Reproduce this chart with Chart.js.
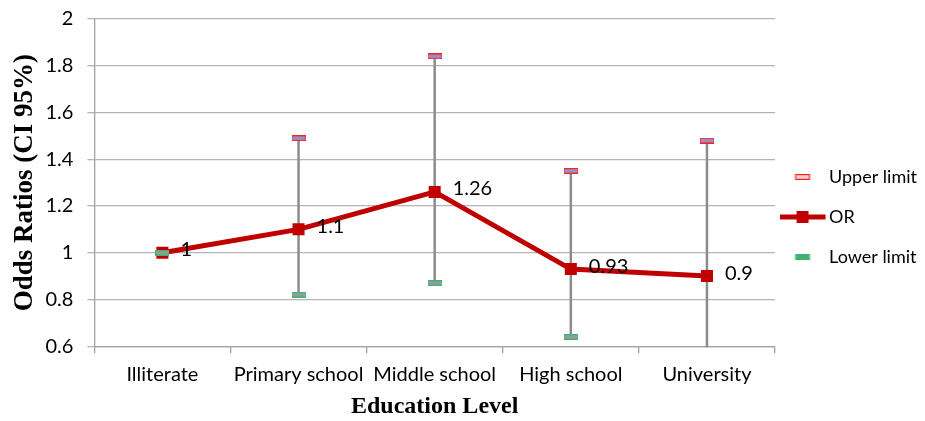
<!DOCTYPE html>
<html>
<head>
<meta charset="utf-8">
<script src="https://cdn.jsdelivr.net/npm/chart.js@4.4.1/dist/chart.umd.min.js"></script>
<style>
  html, body { margin: 0; padding: 0; background: #fff; }
  #wrap { width: 925px; height: 421px; position: relative; }
</style>
</head>
<body>
<div id="wrap"><canvas id="chart"></canvas></div>
<script>
const categories = ['Illiterate', 'Primary school', 'Middle school', 'High school', 'University'];
const orValues = [1, 1.1, 1.26, 0.93, 0.9];
const upperLimit = [1, 1.49, 1.84, 1.35, 1.48];
const lowerLimit = [1, 0.82, 0.87, 0.64, 0.55];
const yTicks = [0.6, 0.8, 1, 1.2, 1.4, 1.6, 1.8, 2];

const tickFont = { family: 'Lato', size: 20 };

// small marker images (w = canvas width, cx = centre of the mark)
function limitMark(stroke, fill, w, cx) {
  const c = document.createElement('canvas');
  c.width = w; c.height = 6;
  const g = c.getContext('2d');
  g.fillStyle = fill;
  g.fillRect(cx - 6.5, 1, 13, 4);
  g.strokeStyle = stroke;
  g.lineWidth = 1.2;
  g.strokeRect(cx - 6.9, 0.6, 13.8, 4.8);
  return c;
}
const upperImg = limitMark('#ff2020', '#9393cf', 14, 7);
const lowerImg = limitMark('#3cb371', '#8e9f98', 14, 7);
// legend versions sit a bit left of the legend box centre
const upperLegend = limitMark('#ff2020', '#ffd0d0', 58, 23);
const lowerLegend = limitMark('#3cb371', '#3cb371', 58, 23);

const orLegend = (function () {
  const c = document.createElement('canvas');
  c.width = 58; c.height = 14;
  const g = c.getContext('2d');
  g.strokeStyle = '#c00000';
  g.lineWidth = 5;
  g.beginPath(); g.moveTo(0, 7); g.lineTo(46, 7); g.stroke();
  g.fillStyle = '#c00000';
  g.fillRect(17, 1, 12, 12);
  return c;
})();

// grey vertical lines between lower and upper limit
const errorBars = {
  id: 'errorBars',
  beforeDatasetsDraw(chart) {
    const { ctx, chartArea, scales: { x, y } } = chart;
    ctx.save();
    ctx.beginPath();
    ctx.rect(chartArea.left, chartArea.top, chartArea.right - chartArea.left, chartArea.bottom - chartArea.top + 1);
    ctx.clip();
    ctx.strokeStyle = '#8c8c8c';
    ctx.lineWidth = 2.5;
    categories.forEach((c, i) => {
      const px = x.getPixelForValue(i);
      ctx.beginPath();
      ctx.moveTo(px, y.getPixelForValue(upperLimit[i]));
      ctx.lineTo(px, y.getPixelForValue(lowerLimit[i]));
      ctx.stroke();
    });
    ctx.restore();
  }
};

// OR value labels right of the points
const orLabels = {
  id: 'orLabels',
  afterDatasetsDraw(chart) {
    const { ctx } = chart;
    const meta = chart.getDatasetMeta(1);
    ctx.save();
    ctx.font = '20px Lato';
    ctx.fillStyle = '#000';
    ctx.textAlign = 'left';
    ctx.textBaseline = 'middle';
    meta.data.forEach((pt, i) => {
      ctx.fillText(String(orValues[i]), pt.x + 18, pt.y - 3);
    });
    ctx.restore();
  }
};

const ctx = document.getElementById('chart').getContext('2d');
new Chart(ctx, {
  type: 'line',
  data: {
    labels: categories,
    datasets: [
      {
        label: 'Upper limit',
        data: upperLimit,
        showLine: false,
        pointStyle: upperImg,
        borderColor: '#ff2020',
        backgroundColor: '#9393cf',
        order: 1
      },
      {
        label: 'OR',
        data: orValues,
        borderColor: '#c00000',
        backgroundColor: '#c00000',
        borderWidth: 5,
        pointStyle: 'rect',
        pointRadius: 8.5,
        pointBorderWidth: 0,
        tension: 0,
        order: 2
      },
      {
        label: 'Lower limit',
        data: lowerLimit,
        showLine: false,
        pointStyle: lowerImg,
        borderColor: '#3cb371',
        backgroundColor: '#8e9f98',
        order: 0
      }
    ]
  },
  options: {
    responsive: true,
    maintainAspectRatio: false,
    animation: false,
    layout: { padding: { left: 4, top: 1, right: -2, bottom: 0 } },
    scales: {
      x: {
        offset: true,
        afterFit(axis) { axis.height -= 9; }, // chart.js counts tick padding twice
        grid: { offset: true, drawOnChartArea: false, drawTicks: true, tickLength: 7, color: '#a0a0a0', lineWidth: 1.3 },
        border: { color: '#a0a0a0', width: 1.3 },
        ticks: { font: tickFont, color: '#000', padding: 9, maxRotation: 0, autoSkip: false },
        title: {
          display: true, text: 'Education Level', color: '#000',
          font: { family: 'Liberation Serif', size: 24, weight: 'bold' },
          padding: { top: 6, bottom: 0 }
        }
      },
      y: {
        min: 0.6,
        max: 2,
        afterBuildTicks(axis) { axis.ticks = yTicks.map(v => ({ value: v })); },
        afterFit(axis) { axis.width -= 14; axis.paddingTop -= 7; },
        grid: { color: '#b4b4b4', lineWidth: 1.3, tickLength: 7 },
        border: { color: '#a0a0a0', width: 1.3 },
        ticks: {
          font: tickFont,
          color: '#000',
          padding: 14,
          callback: v => String(Number(v.toFixed(2)))
        },
        title: {
          display: true, text: 'Odds Ratios (CI 95%)', color: '#000',
          font: { family: 'Liberation Serif', size: 27, weight: 'bold' },
          padding: { top: 5, bottom: 4 }
        }
      }
    },
    plugins: {
      legend: {
        position: 'right',
        title: { display: true, text: ' ', font: { size: 10 }, padding: 0 },
        labels: {
          usePointStyle: true,
          pointStyleWidth: 23,
          font: { family: 'Lato', size: 18 },
          color: '#000',
          padding: 22,
          sort: (a, b) => a.datasetIndex - b.datasetIndex,
          generateLabels(chart) {
            const items = Chart.defaults.plugins.legend.labels.generateLabels(chart);
            const styles = [upperLegend, orLegend, lowerLegend];
            items.forEach(it => { it.pointStyle = styles[it.datasetIndex]; });
            return items;
          }
        }
      },
      tooltip: { enabled: false }
    }
  },
  plugins: [errorBars, orLabels]
});
</script>
</body>
</html>
